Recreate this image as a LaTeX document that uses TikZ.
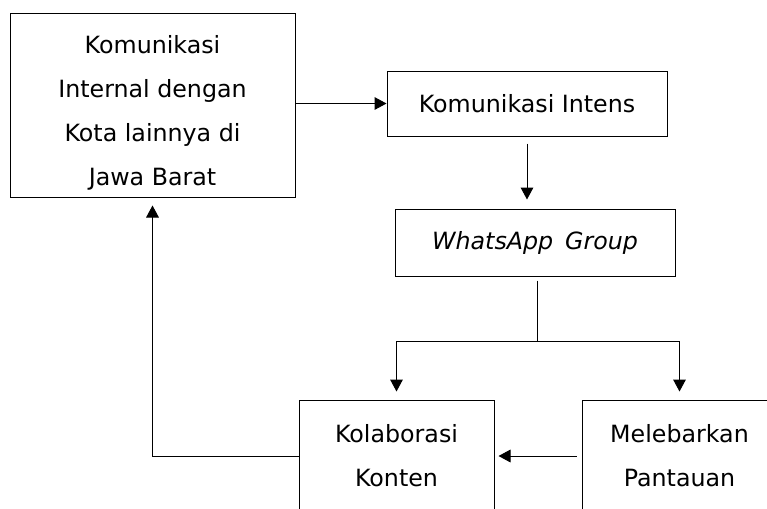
\documentclass[tikz,border=0pt]{standalone}
\usepackage{fontspec}
\setmainfont{DejaVu Sans}
\usetikzlibrary{arrows.meta}
\begin{document}
\begin{tikzpicture}[x=0.75pt, y=-0.75pt,
  font=\fontsize{17.8}{33}\selectfont,
  box/.style={draw, line width=0.75pt, align=center, inner sep=0pt},
  arr/.style={-{Triangle[width=9.5pt,length=9pt]}, line width=0.75pt}]
\useasboundingbox (0,0) rectangle (767,508);
\clip (0,0) rectangle (767,508);
% boxes
\node[box, minimum width=213.75pt, minimum height=138pt] (intern) at (152.5,105) {\rule{0pt}{26pt}Komunikasi\\Internal dengan\\Kota lainnya di\\Jawa Barat};
\node[box, minimum width=210pt, minimum height=48.75pt] (intens) at (527,103.5) {Komunikasi Intens};
\node[box, minimum width=210pt, minimum height=50.25pt] (wag) at (535,242.5) {\textit{WhatsApp\hspace{0.5em}Group}};
\node[box, minimum width=146.25pt, minimum height=84pt] (kolab) at (396.5,456) {Kolaborasi\\Konten};
\node[box, minimum width=146.25pt, minimum height=84pt] (pantau) at (679.5,456) {Melebarkan\\Pantauan};
\coordinate (split) at (537,341);
% connectors
\draw[arr] (intern.east |- intens.west) -- (intens.west);
\draw[arr, shorten <=5.25pt, shorten >=6.75pt] (intens.south) -- (intens.south |- wag.north);
\draw[line width=0.75pt, shorten <=3pt] (wag.south -| split) -- (split);
\draw[arr, shorten >=6pt] (split) -| (kolab.north);
\draw[arr, shorten >=6pt] (split) -| (pantau.north);
\draw[arr, shorten <=3.75pt, shorten >=3pt] (pantau.west) -- (kolab.east);
\draw[arr, shorten >=6pt] (kolab.west) -| (intern.south);
\end{tikzpicture}
\end{document}
